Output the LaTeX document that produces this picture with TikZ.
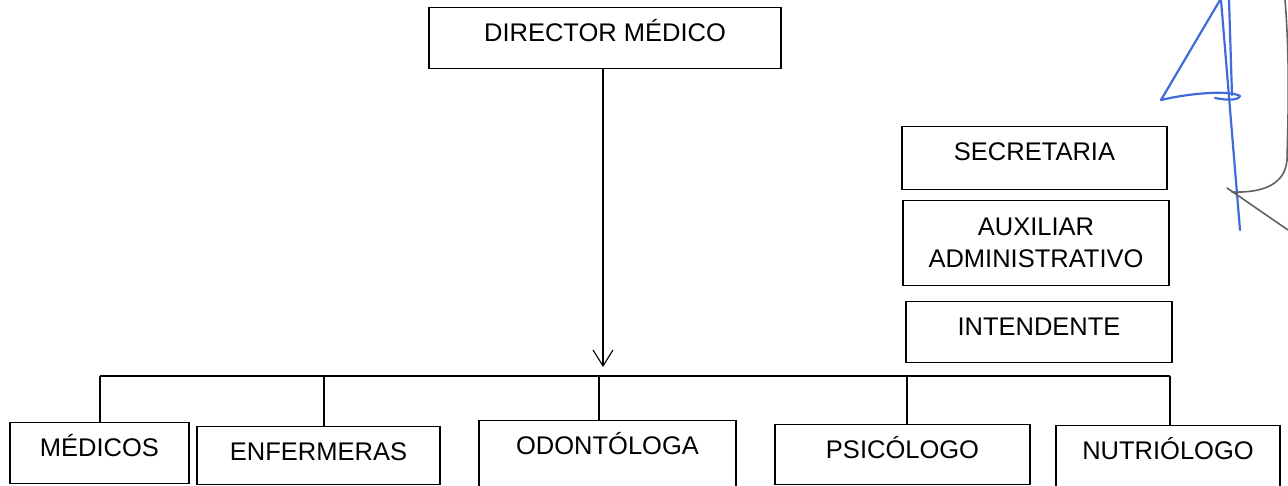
\documentclass[tikz,border=0pt]{standalone}
\usepackage{fontspec}
\setmainfont{Liberation Sans}
\usepackage{tikz}
\usetikzlibrary{arrows.meta}

\begin{document}
\begin{tikzpicture}[x=1pt,y=-1pt,
	outline/.style={draw=black,line width=1.1pt,fill=white,anchor=north,inner ysep=0pt,
		font=\fontsize{25.5}{32}\selectfont,minimum width=#1},
	boxtext/.style={text height=34pt,text depth=27pt},
	link/.style={draw=black,line width=1.1pt},
	ink/.style={line width=2.2pt,line cap=round,line join=round}]
  \definecolor{pen}{rgb}{0.25,0.42,0.86};
  \definecolor{pencil}{rgb}{0.38,0.38,0.38};
	\useasboundingbox (0,0) rectangle (1288,485);
	\clip (0,0) rectangle (1288,485);
	\node [outline=352pt,boxtext] (director) at (605,7) {DIRECTOR MÉDICO};
	\node [outline=265pt,boxtext,text depth=29pt] (secretaria) at (1034.5,126) {SECRETARIA};
	\node [outline=266pt,align=center,minimum height=85pt] (auxiliar) at (1036,200) {AUXILIAR\\ADMINISTRATIVO};
	\node [outline=266pt,boxtext] (intendente) at (1039,301) {INTENDENTE};
	\node [outline=179pt,boxtext] (medicos) at (99.5,422) {MÉDICOS};
	\node [outline=243pt,boxtext,text depth=24pt] (enfermeras) at (318.5,426) {ENFERMERAS};
	\node [outline=257pt,boxtext,text depth=45pt] (odontologa) at (607.5,420) {ODONTÓLOGA};
	\node [outline=255pt,boxtext,text depth=26pt] (psicologo) at (902.5,424) {PSICÓLOGO};
	\node [outline=224pt,boxtext,text depth=45pt] (nutriologo) at (1168,425) {NUTRIÓLOGO};
	\coordinate (tip) at (603,367);
	\coordinate (b1) at (100,376);
	\coordinate (b2) at (324,376);
	\coordinate (b3) at (599,376);
	\coordinate (b4) at (907,376);
	\coordinate (b5) at (1170,376);
	\draw [link,-{Straight Barb[length=16pt,width=20pt,line width=1.1pt]}] (director.south -| tip) -- (tip);
	\draw [link] (b1) -- (b5);
	\draw [link] (b1) -- (b1 |- medicos.north);
	\draw [link] (b2) -- (b2 |- enfermeras.north);
	\draw [link] (b3) -- (b3 |- odontologa.north);
	\draw [link] (b4) -- (b4 |- psicologo.north);
	\draw [link] (b5) -- (b5 |- nutriologo.north);
	\draw [ink,draw=pen] (1220,0) -- (1161,100) .. controls (1190,93) and (1230,90) .. (1240,96) .. controls (1238,101) and (1225,100) .. (1215,98);
	\draw [ink,draw=pen] (1221,0) -- (1240,230);
	\draw [ink,draw=pen] (1229,0) -- (1232,95);
	\draw [ink,draw=pencil,line width=1.6pt] (1285,0) .. controls (1290,60) and (1288,120) .. (1287,160) .. controls (1285,185) and (1262,193) .. (1232,192);
	\draw [ink,draw=pencil,line width=1.6pt] (1227,188) -- (1288,230);
\end{tikzpicture}
\end{document}
